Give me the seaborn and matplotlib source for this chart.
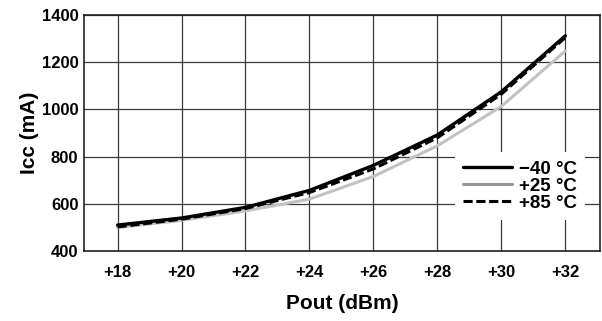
# Icc vs Pout at three temperatures

import pandas as pd
import matplotlib.pyplot as plt
import seaborn as sns

# Data
pout = [18, 20, 22, 24, 26, 28, 30, 32]
tick_labels = ['+18', '+20', '+22', '+24', '+26', '+28', '+30', '+32']
icc_m40 = [510, 540, 585, 657, 763, 892, 1075, 1312]
icc_p25 = [500, 530, 570, 620, 716, 846, 1013, 1248]
icc_p85 = [502, 535, 580, 648, 748, 880, 1065, 1305]
temps = ['\u221240 \u00b0C', '+25 \u00b0C', '+85 \u00b0C']

sns.set_style('white')
plt.rcParams['font.family'] = ['Liberation Sans', 'DejaVu Sans']
plt.rcParams['font.weight'] = 'bold'
plt.rcParams['text.color'] = 'black'
plt.rcParams['axes.labelcolor'] = 'black'
plt.rcParams['xtick.color'] = 'black'
plt.rcParams['ytick.color'] = 'black'

fig = plt.figure(figsize=(6.02, 3.21), dpi=100)
ax = fig.add_axes([0.1395, 0.218, 0.858, 0.735])

# gray first so the black curves sit on top
sns.lineplot(x=pout, y=icc_p25, ax=ax, color='#c2c2c2', linewidth=2.2,
             label=temps[1], zorder=3)
sns.lineplot(x=pout, y=icc_m40, ax=ax, color='black', linewidth=2.4,
             label=temps[0], zorder=4)
sns.lineplot(x=pout, y=icc_p85, ax=ax, color='black', linewidth=2.2,
             linestyle=(0, (3, 1.2)), label=temps[2], zorder=5)

ax.set_xlim(16.95, 33.1)
ax.set_ylim(400, 1400)
ax.set_xticks(pout)
ax.set_xticklabels(tick_labels)
ax.set_yticks(range(400, 1401, 200))
ax.tick_params(axis='both', length=0, labelsize=12)
ax.tick_params(axis='y', pad=4)
ax.tick_params(axis='x', pad=10)
for lab in ax.get_xticklabels() + ax.get_yticklabels():
    lab.set_fontweight('bold')

ax.grid(True, color='#3a3a3a', linewidth=0.9)
for s in ax.spines.values():
    s.set_color('#222222')
    s.set_linewidth(1.2)

ax.set_xlabel('Pout (dBm)', fontsize=15, fontweight='bold', labelpad=10)
ax.set_ylabel('Icc (mA)', fontsize=15, fontweight='bold', labelpad=2)

# legend in the order -40, +25, +85
handles, labels = ax.get_legend_handles_labels()
order = [labels.index(t) for t in temps]
leg = ax.legend([handles[i] for i in order], [labels[i] for i in order],
                loc='center right', bbox_to_anchor=(0.97, 0.275),
                frameon=True, facecolor='white', edgecolor='none',
                framealpha=1, fancybox=False, handlelength=2.6,
                handletextpad=0.35, labelspacing=0.0, fontsize=13.5,
                borderpad=0.45, borderaxespad=0)
leg.get_lines()[1].set_color('#999999')
for t in leg.get_texts():
    t.set_fontweight('bold')

plt.savefig('out.png', dpi=100)
